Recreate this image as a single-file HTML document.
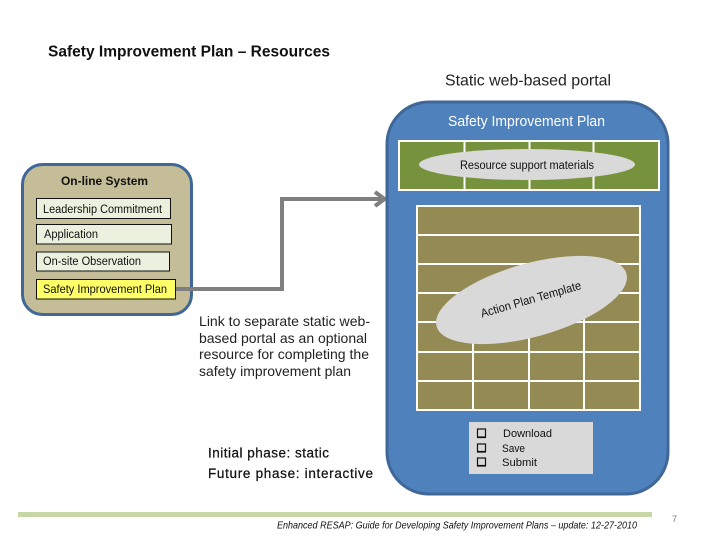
<!DOCTYPE html>
<html><head><meta charset="utf-8"><style>
html,body{margin:0;padding:0;background:#fff}
svg{display:block}
text{font-family:"Liberation Sans",sans-serif;fill:#111}
</style></head><body>
<svg width="720" height="540" viewBox="0 0 720 540" xmlns="http://www.w3.org/2000/svg">
<rect width="720" height="540" fill="#fff"/>
<text x="48" y="56.500" font-size="15.500" font-weight="bold" textLength="282" lengthAdjust="spacingAndGlyphs">Safety Improvement Plan – Resources</text>
<text x="445" y="85.500" font-size="16" textLength="166" lengthAdjust="spacingAndGlyphs" style="fill:#222">Static web-based portal</text>

<!-- left panel -->
<rect x="22.500" y="164.500" width="169" height="150" rx="20" fill="#c4bd97" stroke="#3f6797" stroke-width="3"/>
<text x="61" y="185" font-size="12" font-weight="bold" textLength="87" lengthAdjust="spacingAndGlyphs">On-line System</text>
<rect x="36.500" y="198.500" width="134" height="20" fill="#ebf1de" stroke="#111" stroke-width="1"/>
<text x="43" y="213" font-size="11.500" textLength="119" lengthAdjust="spacingAndGlyphs">Leadership Commitment</text>
<rect x="36.500" y="224.500" width="135" height="19.500" fill="#ebf1de" stroke="#111" stroke-width="1"/>
<text x="44" y="238" font-size="11.500" textLength="54" lengthAdjust="spacingAndGlyphs">Application</text>
<rect x="36.500" y="252" width="133" height="19" fill="#ebf1de" stroke="#111" stroke-width="1"/>
<text x="43" y="265" font-size="11.500" textLength="98" lengthAdjust="spacingAndGlyphs">On-site Observation</text>
<rect x="36.500" y="279.500" width="139" height="19.500" fill="#ffff66" stroke="#111" stroke-width="1"/>
<text x="43" y="293" font-size="11.800" textLength="124" lengthAdjust="spacingAndGlyphs">Safety Improvement Plan</text>

<!-- connector -->
<path d="M176 289H282V199H384" fill="none" stroke="#7f7f7f" stroke-width="4"/>
<path d="M375 192L384.500 199L375 206" fill="none" stroke="#7f7f7f" stroke-width="4"/>

<!-- blue panel -->
<rect x="387" y="102" width="281" height="392" rx="42" fill="#4f81bd" stroke="#3f6797" stroke-width="3"/>
<text x="448" y="126" font-size="14.500" textLength="157" lengthAdjust="spacingAndGlyphs" style="fill:#fff">Safety Improvement Plan</text>

<!-- green table -->
<rect x="399" y="141" width="260" height="49" fill="#76923c" stroke="#fff" stroke-width="2"/>
<path d="M464.500 141V190M529.500 141V190M593.500 141V190" stroke="#fff" stroke-width="2"/>
<ellipse cx="527" cy="164.500" rx="108" ry="15.500" fill="#d9d9d9"/>
<text x="460" y="169" font-size="11.500" textLength="134" lengthAdjust="spacingAndGlyphs">Resource support materials</text>

<!-- brown table -->
<rect x="417" y="206" width="223" height="204" fill="#948a54" stroke="#fff" stroke-width="2"/>
<path d="M417 235H640M417 264H640M417 293H640M417 322H640M417 352H640M417 381H640" stroke="#fff" stroke-width="2"/>
<path d="M473 293V410M529 293V410M584 293V410" stroke="#fff" stroke-width="2"/>
<ellipse cx="531.500" cy="300" rx="98.500" ry="36.700" fill="#d9d9d9" transform="rotate(-15.500 531.500 300)"/>
<text x="0" y="0" font-size="12" textLength="104" lengthAdjust="spacingAndGlyphs" transform="translate(482 317.500) rotate(-16)">Action Plan Template</text>

<!-- gray box -->
<rect x="469" y="422" width="124" height="52" fill="#d9d9d9"/>
<g fill="none" stroke="#111" stroke-width="1.200">
<rect x="477.500" y="429" width="8" height="8"/>
<rect x="477.500" y="444" width="8" height="7.500"/>
<rect x="477.500" y="458" width="8" height="7.500"/>
</g>
<path d="M477 437.500H486M477 452H486M477 466H486" stroke="#111" stroke-width="1.200"/>
<text x="503" y="437" font-size="11" textLength="49" lengthAdjust="spacingAndGlyphs">Download</text>
<text x="502" y="452" font-size="11" textLength="23" lengthAdjust="spacingAndGlyphs">Save</text>
<text x="502" y="466" font-size="11" textLength="35" lengthAdjust="spacingAndGlyphs">Submit</text>

<!-- middle text -->
<g font-size="14">
<text x="199" y="326" textLength="171" lengthAdjust="spacingAndGlyphs" style="fill:#222">Link to separate static web-</text>
<text x="199" y="343" textLength="168" lengthAdjust="spacingAndGlyphs" style="fill:#222">based portal as an optional</text>
<text x="199" y="359" textLength="170" lengthAdjust="spacingAndGlyphs" style="fill:#222">resource for completing the</text>
<text x="199" y="376" textLength="152" lengthAdjust="spacingAndGlyphs" style="fill:#222">safety improvement plan</text>
</g>
<text x="208" y="457.500" font-size="13.500" textLength="121" lengthAdjust="spacing" stroke="#111" stroke-width="0.250">Initial phase: static</text>
<text x="208" y="478" font-size="13.500" textLength="165" lengthAdjust="spacing" stroke="#111" stroke-width="0.250">Future phase:  interactive</text>

<!-- footer -->
<rect x="18" y="512" width="634" height="5" fill="#c6d6a5"/>
<text x="277" y="528.500" font-size="10" font-style="italic" textLength="360" lengthAdjust="spacingAndGlyphs">Enhanced RESAP:  Guide for Developing Safety Improvement Plans – update:  12-27-2010</text>
<text x="672" y="522" font-size="9" style="fill:#777">7</text>
</svg>
</body></html>
